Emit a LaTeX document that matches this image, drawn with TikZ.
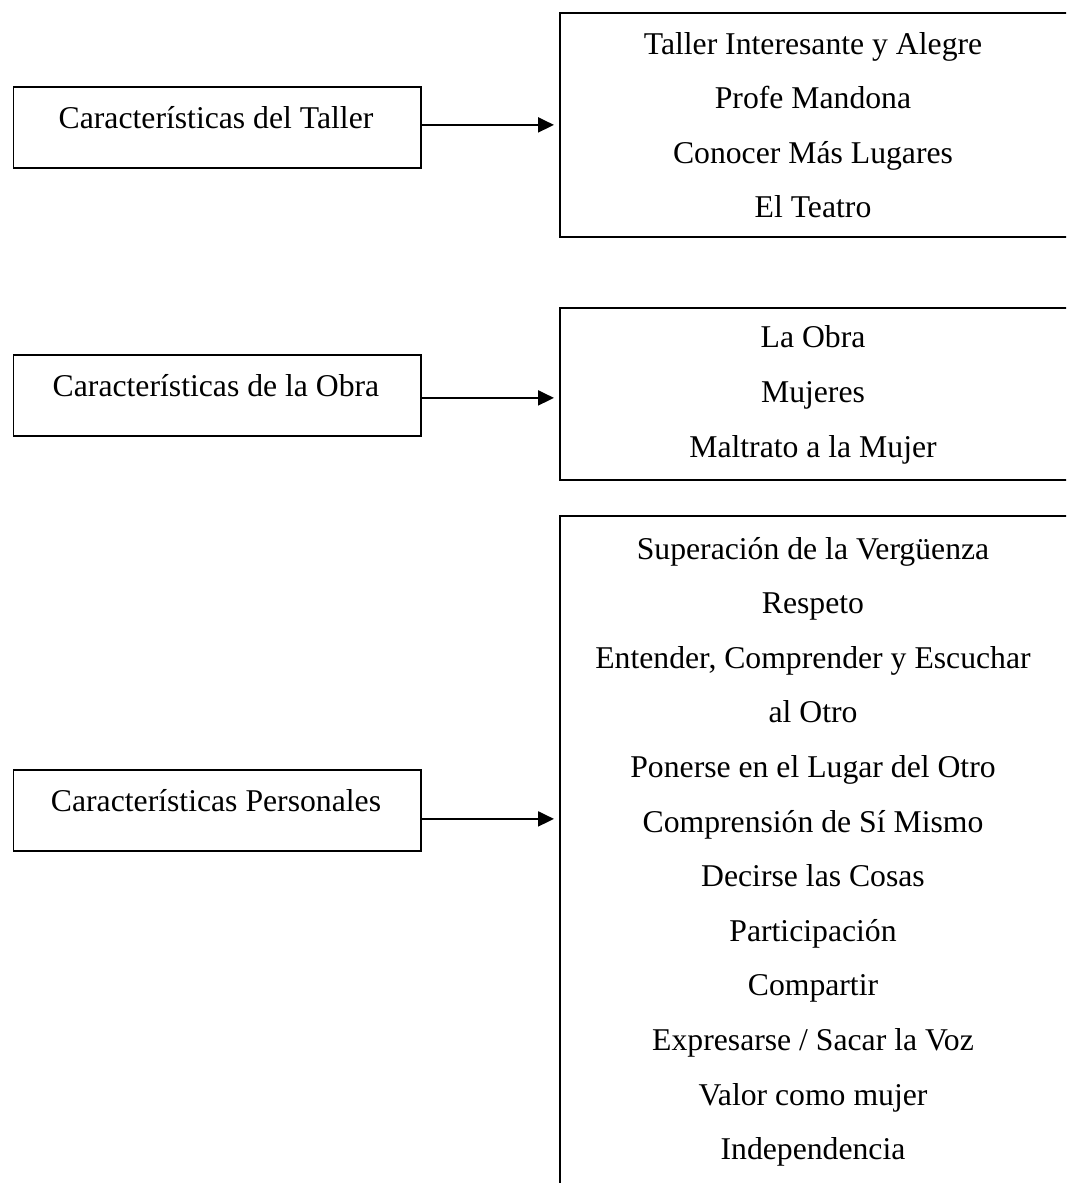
\documentclass[tikz,border=0pt]{standalone}
\usepackage{fontspec}
\setmainfont{Liberation Serif}
\usetikzlibrary{arrows.meta}
\begin{document}
\begin{tikzpicture}[x=1pt,y=-1pt,
  lbox/.style={draw,line width=1.8pt,minimum width=407.5pt,minimum height=81pt,inner sep=0pt,anchor=north west},
  rbox/.style={draw,line width=1.8pt,minimum width=508pt,inner sep=0pt,anchor=north west},
  txt/.style={anchor=base,inner sep=0pt,font=\fontsize{31.7}{38}\selectfont},
  arr/.style={line width=2pt,-{Triangle[length=16pt,width=15pt]},shorten >=5pt}]
\useasboundingbox (0,0) rectangle (1066,1183);
\clip (0,0) rectangle (1066,1183);
% left boxes
\node[lbox] (l1) at (12.5,86) {};
\node[lbox] (l2) at (12.5,354) {};
\node[lbox] (l3) at (12.5,769) {};
\node[txt] (lt1) at (216,128) {Características del Taller};
\node[txt] (lt2) at (216,396) {Características de la Obra};
\node[txt] (lt3) at (216,811) {Características Personales};
% right boxes
\node[rbox,minimum height=224pt] (r1) at (559,12) {};
\node[rbox,minimum height=172pt] (r2) at (559,307) {};
\node[rbox,minimum height=720pt] (r3) at (559,515) {};
% texts box 1
\foreach \t [count=\i from 0] in {Taller Interesante y Alegre, Profe Mandona, Conocer Más Lugares, El Teatro}
  \node[txt] (a\i) at (813,54+54.6*\i) {\t};
% texts box 2
\foreach \t [count=\i from 0] in {La Obra, Mujeres, Maltrato a la Mujer}
  \node[txt] (b\i) at (813,347+55*\i) {\t};
% texts box 3
\foreach \t [count=\i from 0] in {Superación de la Vergüenza, Respeto, {Entender, Comprender y Escuchar}, al Otro, Ponerse en el Lugar del Otro, Comprensión de Sí Mismo, Decirse las Cosas, Participación, Compartir, Expresarse / Sacar la Voz, Valor como mujer, Independencia}
  \node[txt] (c\i) at (813,559+54.6*\i) {\t};
% arrows
\draw[arr] ([yshift=2.5pt]l1.east) -- ([yshift=2.5pt]l1.east -| r1.west);
\draw[arr] ([yshift=-2.5pt]l2.east) -- ([yshift=-2.5pt]l2.east -| r2.west);
\draw[arr] ([yshift=-8.5pt]l3.east) -- ([yshift=-8.5pt]l3.east -| r3.west);
\end{tikzpicture}
\end{document}
